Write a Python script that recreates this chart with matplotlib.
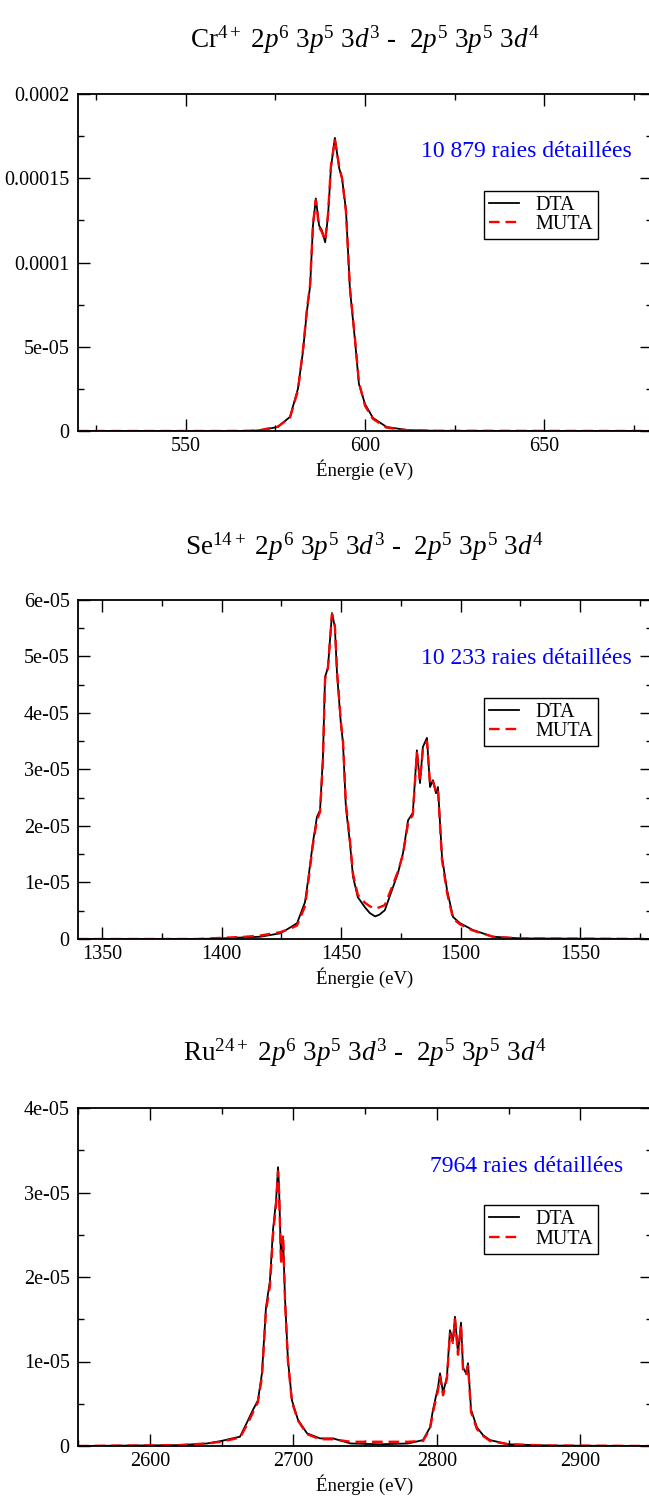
import matplotlib
matplotlib.use("Agg")
import matplotlib.pyplot as plt
from matplotlib.ticker import MultipleLocator, FixedLocator, FixedFormatter

plt.rcParams['font.family'] = ['Liberation Serif', 'DejaVu Serif']
plt.rcParams['mathtext.fontset'] = 'custom'
plt.rcParams['mathtext.rm'] = 'Liberation Serif'
plt.rcParams['mathtext.it'] = 'Liberation Serif:italic'

# ---- Cr4+ ----
cr_x = [520, 560, 568, 570.7, 575.7, 579.1, 581.3, 582.7, 583.8, 584.7, 585.5, 586.3, 587.2,
        588.0, 588.9, 589.7, 590.5, 591.6, 592.8, 593.6, 594.7, 595.8, 597.2, 598.3, 600.0,
        602.2, 606.0, 612, 620, 680]
cr_dta = [0, 0, 0.1e-6, 0.4e-6, 2.4e-6, 8.4e-6, 2.5e-5, 4.7e-5, 7.1e-5, 8.6e-5, 1.22e-4, 1.38e-4,
          1.22e-4, 1.19e-4, 1.12e-4, 1.28e-4, 1.56e-4, 1.74e-4, 1.56e-4, 1.50e-4, 1.31e-4, 8.4e-5,
          5.4e-5, 2.8e-5, 1.6e-5, 7.8e-6, 2.4e-6, 0.5e-6, 0.1e-6, 0]
cr_muta = [0, 0, 0.1e-6, 0.5e-6, 2.6e-6, 8.0e-6, 2.4e-5, 4.8e-5, 7.2e-5, 8.7e-5, 1.23e-4, 1.37e-4,
           1.21e-4, 1.18e-4, 1.13e-4, 1.29e-4, 1.57e-4, 1.73e-4, 1.57e-4, 1.50e-4, 1.30e-4, 8.5e-5,
           5.5e-5, 2.9e-5, 1.5e-5, 7.2e-6, 2.0e-6, 0.4e-6, 0.1e-6, 0]

# ---- Se14+ ----
se_x = [1340, 1390, 1400, 1410, 1416.1, 1424.5, 1428.6, 1431.6, 1434.9, 1436.2, 1438.2, 1439.9,
        1441.2, 1442.4, 1443.3, 1444.5, 1446.2, 1447.4, 1448.3, 1449.9, 1450.8, 1452.0, 1453.7,
        1455.0, 1457.0, 1460.0, 1462.0, 1464.2, 1466.0, 1468.3, 1471.3, 1473.8, 1475.9, 1478.0,
        1480.0, 1481.7, 1483.0, 1484.2, 1485.9, 1487.2, 1488.4, 1489.7, 1490.5, 1492.2, 1494.3,
        1496.8, 1499.7, 1505.1, 1513.5, 1525, 1580]
se_dta = [0, 0, 0.1e-6, 0.3e-6, 0.4e-6, 1.0e-6, 2.0e-6, 2.8e-6, 6.5e-6, 1.04e-5, 1.7e-5, 2.16e-5,
          2.28e-5, 3.2e-5, 4.64e-5, 4.8e-5, 5.77e-5, 5.52e-5, 4.7e-5, 3.82e-5, 3.47e-5, 2.34e-5,
          1.7e-5, 1.1e-5, 7.4e-6, 5.6e-6, 4.6e-6, 4.0e-6, 4.3e-6, 5.1e-6, 8.7e-6, 1.17e-5, 1.52e-5,
          2.1e-5, 2.23e-5, 3.34e-5, 2.76e-5, 3.4e-5, 3.56e-5, 2.69e-5, 2.81e-5, 2.58e-5, 2.69e-5,
          1.45e-5, 8.7e-6, 3.9e-6, 2.8e-6, 1.6e-6, 0.4e-6, 0.1e-6, 0]
se_muta = [0, 0, 0.2e-6, 0.4e-6, 0.6e-6, 1.2e-6, 1.8e-6, 2.4e-6, 5.8e-6, 9.8e-6, 1.66e-5, 2.1e-5,
           2.25e-5, 3.15e-5, 4.6e-5, 4.8e-5, 5.75e-5, 5.55e-5, 4.75e-5, 3.85e-5, 3.5e-5, 2.4e-5,
           1.75e-5, 1.15e-5, 7.8e-6, 6.4e-6, 5.8e-6, 5.4e-6, 5.6e-6, 6.0e-6, 9.2e-6, 1.2e-5, 1.5e-5,
           2.05e-5, 2.2e-5, 3.3e-5, 2.8e-5, 3.35e-5, 3.5e-5, 2.75e-5, 2.8e-5, 2.6e-5, 2.65e-5,
           1.4e-5, 8.2e-6, 3.6e-6, 2.6e-6, 1.5e-6, 0.4e-6, 0.1e-6, 0]

# ---- Ru24+ ----
ru_x = [2550, 2620, 2640, 2650, 2655, 2662.9, 2667.8, 2672.0, 2675.4, 2678.2, 2681.0, 2683.8,
        2685.9, 2688.0, 2689.4, 2690.1, 2691.5, 2692.9, 2694.3, 2696.3, 2699.1, 2703.3, 2709.6,
        2718.6, 2727.7, 2740, 2760, 2780, 2790.4, 2795.3, 2797.4, 2800.9, 2802.3, 2804.4, 2807.1,
        2809.2, 2811.3, 2812.7, 2814.8, 2816.9, 2818.3, 2820.4, 2821.8, 2823.9, 2828.0, 2832.2,
        2837.1, 2850, 2880, 2950]
ru_dta = [0, 0.1e-6, 0.3e-6, 0.6e-6, 0.8e-6, 1.1e-6, 2.8e-6, 4.3e-6, 5.4e-6, 8.6e-6, 1.64e-5,
          1.96e-5, 2.56e-5, 2.9e-5, 3.3e-5, 3.06e-5, 2.2e-5, 2.47e-5, 1.73e-5, 1.02e-5, 5.4e-6,
          3.1e-6, 1.5e-6, 0.9e-6, 0.9e-6, 0.3e-6, 0.2e-6, 0.3e-6, 0.7e-6, 2.2e-6, 4.3e-6, 7.0e-6,
          8.6e-6, 6.3e-6, 8.2e-6, 1.37e-5, 1.25e-5, 1.53e-5, 1.1e-5, 1.46e-5, 9.3e-6, 8.6e-6,
          9.8e-6, 4.3e-6, 2.2e-6, 1.3e-6, 0.7e-6, 0.2e-6, 0.05e-6, 0]
ru_muta = [0, 0.1e-6, 0.3e-6, 0.5e-6, 0.7e-6, 1.0e-6, 2.5e-6, 4.0e-6, 5.2e-6, 8.2e-6, 1.6e-5,
           1.9e-5, 2.5e-5, 2.85e-5, 3.25e-5, 3.0e-5, 2.15e-5, 2.5e-5, 1.7e-5, 1.0e-5, 5.2e-6,
           3.0e-6, 1.4e-6, 0.8e-6, 0.8e-6, 0.5e-6, 0.5e-6, 0.5e-6, 0.6e-6, 2.0e-6, 4.0e-6, 6.6e-6,
           8.2e-6, 6.0e-6, 8.0e-6, 1.33e-5, 1.22e-5, 1.5e-5, 1.08e-5, 1.42e-5, 9.0e-6, 8.4e-6,
           9.5e-6, 4.0e-6, 2.0e-6, 1.2e-6, 0.6e-6, 0.2e-6, 0.05e-6, 0]

titles = ['Cr$^{4+}$ 2$p^6$ 3$p^5$ 3$d^3$ -  2$p^5$ 3$p^5$ 3$d^4$',
          'Se$^{14+}$ 2$p^6$ 3$p^5$ 3$d^3$ -  2$p^5$ 3$p^5$ 3$d^4$',
          'Ru$^{24+}$ 2$p^6$ 3$p^5$ 3$d^3$ -  2$p^5$ 3$p^5$ 3$d^4$']
notes = ['10 879 raies détaillées', '10 233 raies détaillées', '7964 raies détaillées']

cr_yticks = [0, 5e-5, 1e-4, 1.5e-4, 2e-4]
cr_ylabels = ['0', '5e-05', '0.0001', '0.00015', '0.0002']
se_yticks = [0, 1e-5, 2e-5, 3e-5, 4e-5, 5e-5, 6e-5]
se_ylabels = ['0', '1e-05', '2e-05', '3e-05', '4e-05', '5e-05', '6e-05']
ru_yticks = [0, 1e-5, 2e-5, 3e-5, 4e-5]
ru_ylabels = ['0', '1e-05', '2e-05', '3e-05', '4e-05']

panels = [
    # x, dta, muta, xlim, xmajor, ymax, yticks, ylabels, yminor
    (cr_x, cr_dta, cr_muta, (520, 680), 50, 2e-4, cr_yticks, cr_ylabels, 2.5e-5),
    (se_x, se_dta, se_muta, (1340, 1580), 50, 6e-5, se_yticks, se_ylabels, 5e-6),
    (ru_x, ru_dta, ru_muta, (2550, 2950), 100, 4e-5, ru_yticks, ru_ylabels, 5e-6),
]

W, H = 649, 1497
fig = plt.figure(figsize=(W / 100, H / 100), dpi=100)

# pixel boxes (top, bottom) of each panel, and title centres
boxes = [(94, 431), (600, 939), (1108, 1446)]
title_y = [40, 547, 1053]
left, right = 78, 652

for i, (x, dta, muta, xlim, xmaj, ymax, yt, yl, ymin_step) in enumerate(panels):
    top, bot = boxes[i]
    ax = fig.add_axes([left / W, 1 - bot / H, (right - left) / W, (bot - top) / H])
    ax.plot(x, dta, color='black', lw=1.3, label='DTA')
    ax.plot(x, muta, color='red', lw=1.7, ls=(0, (4.5, 2.5)), label='MUTA')
    ax.set_xlim(*xlim)
    ax.set_ylim(0, ymax)
    ax.xaxis.set_major_locator(MultipleLocator(xmaj))
    ax.xaxis.set_minor_locator(MultipleLocator(xmaj / 2))
    ax.yaxis.set_major_locator(FixedLocator(yt))
    ax.yaxis.set_major_formatter(FixedFormatter(yl))
    ax.yaxis.set_minor_locator(MultipleLocator(ymin_step))
    ax.tick_params(which='both', direction='in', top=True, right=True, labelsize=14.5, width=1)
    ax.tick_params(which='major', length=8.5)
    ax.tick_params(axis='y', which='major', pad=6)
    ax.tick_params(axis='x', which='major', pad=4)
    ax.tick_params(which='minor', length=4.5)
    for s in ax.spines.values():
        s.set_linewidth(1.3)
    ax.set_xlabel('Énergie (eV)', fontsize=13.5, labelpad=3)
    ax.text(0.782, 0.828, notes[i], transform=ax.transAxes, color='blue',
            fontsize=17, ha='center', va='center')
    leg = ax.legend(loc='upper left', bbox_to_anchor=(0.707, 0.712), fontsize=14.5,
                    frameon=True, fancybox=False, framealpha=1, borderpad=0.25,
                    handlelength=1.5, handletextpad=0.8, labelspacing=0.0, borderaxespad=0)
    leg.get_frame().set_edgecolor('black')
    leg.get_frame().set_linewidth(1)
    fig.text((left + right) / 2 / W, 1 - title_y[i] / H, titles[i], fontsize=19.5,
             ha='center', va='center')

fig.savefig('out.png', dpi=100)
